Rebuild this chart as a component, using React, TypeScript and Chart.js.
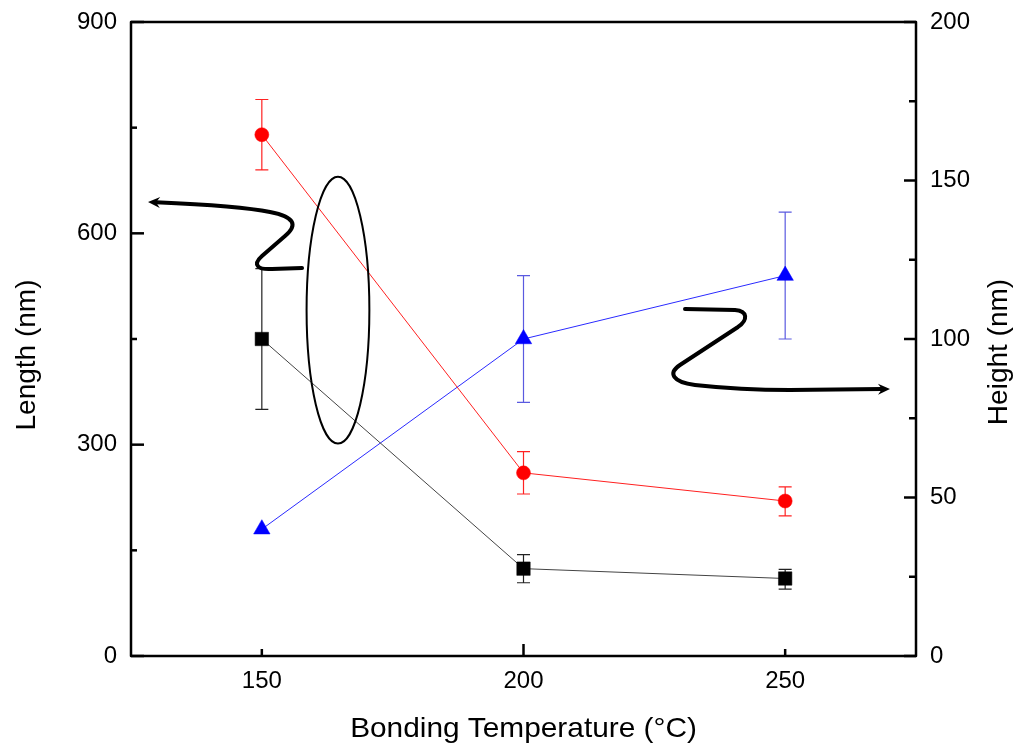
import React, { useEffect, useRef } from 'react';
import { Chart, registerables } from 'chart.js';

Chart.register(...registerables);

// ---- data ----
const temperatures = [150, 200, 250];
const lengthRed = [740, 260, 220];
const lengthRedErr: ([number, number] | null)[] = [[690, 790], [230, 290], [199, 240]];
const lengthBlack = [450, 124, 110];
const lengthBlackErr: ([number, number] | null)[] = [[350, 550], [104, 144], [95, 123]];
const heightBlue = [40, 100, 120];
const heightBlueErr: ([number, number] | null)[] = [null, [80, 120], [100, 140]];

const xTicks = [150, 200, 250];
const leftTicks = [0, 300, 600, 900];
const leftMinor = [150, 450, 750];
const rightTicks = [0, 50, 100, 150, 200];
const rightMinor = [25, 75, 125, 175];

// annotation geometry, in data units (x: temperature, y: left axis length)
const ellipseCenter = [164.55, 491];
const ellipseRadii = [6.0, 189.5];
const leftArrow: number[][] = [
  [128.25, 644.5],
  [145.83, 638.8], [151.56, 630.3],
  [156.34, 623.2], [156.91, 611.9], [154.43, 596.2],
  [150.03, 567.8],
  [148.12, 555.1], [149.27, 548.0], [151.94, 549.4],
  [157.68, 550.8],
];
const rightArrow: number[][] = [
  [230.86, 492.6],
  [240.41, 491.2],
  [242.9, 489.8], [242.9, 477.0], [240.99, 467.1],
  [229.9, 413.1],
  [227.61, 401.7], [228.38, 389.0], [232.77, 384.7],
  [241.37, 377.6], [250.92, 377.6],
  [270.03, 379.0],
];

const FONT = '"Liberation Sans", Arial, Helvetica, sans-serif';

const toXY = (vals: number[]) => temperatures.map((t, i) => ({ x: t, y: vals[i] }));

const errorBarPlugin = {
  id: 'errorBars',
  beforeDatasetsDraw(chart: any) {
    const ctx = chart.ctx;
    const xs = chart.scales.x;
    chart.data.datasets.forEach((ds: any) => {
      const ys = chart.scales[ds.yAxisID];
      const errs = ds.errors || [];
      ctx.save();
      ctx.strokeStyle = ds.errorColor;
      ctx.lineWidth = 1.2;
      errs.forEach((e: [number, number] | null, j: number) => {
        if (!e) return;
        const x = xs.getPixelForValue(ds.data[j].x);
        const y1 = ys.getPixelForValue(e[0]);
        const y2 = ys.getPixelForValue(e[1]);
        ctx.beginPath();
        ctx.moveTo(x, y1); ctx.lineTo(x, y2);
        ctx.moveTo(x - 6.5, y1); ctx.lineTo(x + 6.5, y1);
        ctx.moveTo(x - 6.5, y2); ctx.lineTo(x + 6.5, y2);
        ctx.stroke();
      });
      ctx.restore();
    });
  },
};

function arrowHead(ctx: CanvasRenderingContext2D, tip: number[], from: number[]) {
  const dx = tip[0] - from[0];
  const dy = tip[1] - from[1];
  const len = Math.hypot(dx, dy) || 1;
  const ux = dx / len, uy = dy / len;
  const px = -uy, py = ux;
  const L = 12, W = 5.5;
  ctx.beginPath();
  ctx.moveTo(tip[0], tip[1]);
  ctx.lineTo(tip[0] - ux * L + px * W, tip[1] - uy * L + py * W);
  ctx.lineTo(tip[0] - ux * (L - 4), tip[1] - uy * (L - 4));
  ctx.lineTo(tip[0] - ux * L - px * W, tip[1] - uy * L - py * W);
  ctx.closePath();
  ctx.fill();
}

const framePlugin = {
  id: 'frame',
  afterDraw(chart: any) {
    const { ctx, chartArea: a, scales } = chart;
    const xs = scales.x, yl = scales.y, yr = scales.y2;
    const P = (v: number[]) => [xs.getPixelForValue(v[0]), yl.getPixelForValue(v[1])];
    ctx.save();
    ctx.strokeStyle = '#000';
    ctx.fillStyle = '#000';

    // annotations
    const c = P(ellipseCenter);
    const rx = Math.abs(xs.getPixelForValue(ellipseCenter[0] + ellipseRadii[0]) - c[0]);
    const ry = Math.abs(yl.getPixelForValue(ellipseCenter[1] + ellipseRadii[1]) - c[1]);
    ctx.lineWidth = 2;
    ctx.beginPath();
    ctx.ellipse(c[0], c[1], rx, ry, 0, 0, Math.PI * 2);
    ctx.stroke();

    ctx.lineWidth = 4;
    ctx.lineCap = 'round';
    ctx.lineJoin = 'round';
    {
      const p = leftArrow.map(P);
      ctx.beginPath();
      ctx.moveTo(p[0][0] + 8, p[0][1] + 0.3);
      ctx.quadraticCurveTo(p[1][0], p[1][1], p[2][0], p[2][1]);
      ctx.bezierCurveTo(p[3][0], p[3][1], p[4][0], p[4][1], p[5][0], p[5][1]);
      ctx.lineTo(p[6][0], p[6][1]);
      ctx.bezierCurveTo(p[7][0], p[7][1], p[8][0], p[8][1], p[9][0], p[9][1]);
      ctx.lineTo(p[10][0], p[10][1]);
      ctx.stroke();
      arrowHead(ctx, p[0], p[1]);
    }
    {
      const p = rightArrow.map(P);
      ctx.beginPath();
      ctx.moveTo(p[0][0], p[0][1]);
      ctx.lineTo(p[1][0], p[1][1]);
      ctx.bezierCurveTo(p[2][0], p[2][1], p[3][0], p[3][1], p[4][0], p[4][1]);
      ctx.lineTo(p[5][0], p[5][1]);
      ctx.bezierCurveTo(p[6][0], p[6][1], p[7][0], p[7][1], p[8][0], p[8][1]);
      ctx.quadraticCurveTo(p[9][0], p[9][1], p[10][0], p[10][1]);
      ctx.lineTo(p[11][0] - 8, p[11][1]);
      ctx.stroke();
      arrowHead(ctx, p[11], p[10]);
    }

    // frame
    ctx.lineCap = 'butt';
    ctx.lineWidth = 2.5;
    ctx.strokeRect(a.left, a.top, a.right - a.left, a.bottom - a.top);
    const seg = (x1: number, y1: number, x2: number, y2: number) => {
      ctx.beginPath(); ctx.moveTo(x1, y1); ctx.lineTo(x2, y2); ctx.stroke();
    };
    leftTicks.forEach((v) => { const y = yl.getPixelForValue(v); seg(a.left, y, a.left + 13, y); });
    leftMinor.forEach((v) => { const y = yl.getPixelForValue(v); seg(a.left, y, a.left + 6, y); });
    rightTicks.forEach((v) => { const y = yr.getPixelForValue(v); seg(a.right, y, a.right - 12, y); });
    rightMinor.forEach((v) => { const y = yr.getPixelForValue(v); seg(a.right, y, a.right - 7, y); });
    xTicks.forEach((v, i) => { const x = xs.getPixelForValue(v); seg(x, a.bottom, x, a.bottom - (i === 1 ? 12 : 7)); });

    // axis titles
    ctx.font = `28px ${FONT}`;
    ctx.textAlign = 'center';
    ctx.textBaseline = 'alphabetic';
    ctx.save();
    ctx.translate((a.left + a.right) / 2, 737);
    ctx.scale(1.065, 1);
    ctx.fillText('Bonding Temperature (\u00B0C)', 0, 0);
    ctx.restore();
    ctx.save();
    ctx.translate(35, 355);
    ctx.rotate(-Math.PI / 2);
    ctx.fillText('Length (nm)', 0, 0);
    ctx.restore();
    ctx.save();
    ctx.translate(1007, 352);
    ctx.rotate(-Math.PI / 2);
    ctx.fillText('Height (nm)', 0, 0);
    ctx.restore();
    ctx.restore();
  },
};

const zeroPad = (s: any) => {
  s.paddingTop = 0;
  s.paddingBottom = 0;
  s.paddingLeft = 0;
  s.paddingRight = 0;
};

export default function App() {
  const ref = useRef<HTMLCanvasElement | null>(null);
  useEffect(() => {
    if (!ref.current) return;
    const tickFont = { family: FONT, size: 24 };
    const chart = new Chart(ref.current, {
      type: 'line',
      data: {
        datasets: [
          {
            label: 'Length (red)',
            data: toXY(lengthRed),
            yAxisID: 'y',
            borderColor: '#ff2020',
            backgroundColor: '#ff0000',
            borderWidth: 1,
            pointStyle: 'circle',
            pointRadius: 7,
            pointBorderWidth: 0.5,
            pointBorderColor: '#ff0000',
            errors: lengthRedErr,
            errorColor: '#f22',
          } as any,
          {
            label: 'Length (black)',
            data: toXY(lengthBlack),
            yAxisID: 'y',
            borderColor: '#444',
            backgroundColor: '#000',
            borderWidth: 1,
            pointStyle: 'rect',
            pointRadius: 9.5,
            pointBorderWidth: 0.5,
            pointBorderColor: '#000',
            errors: lengthBlackErr,
            errorColor: '#222',
          } as any,
          {
            label: 'Height (blue)',
            data: toXY(heightBlue),
            yAxisID: 'y2',
            borderColor: '#2a2aff',
            backgroundColor: '#0000ff',
            borderWidth: 1,
            pointStyle: 'triangle',
            pointRadius: 9.5,
            pointBorderWidth: 0.5,
            pointBorderColor: '#0000ff',
            errors: heightBlueErr,
            errorColor: '#5a5ae0',
          } as any,
        ],
      },
      options: {
        animation: false,
        responsive: false,
        devicePixelRatio: 1,
        layout: { padding: { top: 22, left: 0, right: 0, bottom: 0 } },
        plugins: { legend: { display: false }, tooltip: { enabled: false } },
        scales: {
          x: {
            type: 'linear',
            min: 125,
            max: 275,
            grid: { display: false, drawTicks: false },
            border: { display: false },
            ticks: { font: tickFont, color: '#000', padding: 11 },
            afterBuildTicks: (s: any) => { s.ticks = xTicks.map((v) => ({ value: v })); },
            afterFit: (s: any) => { s.height = 95; zeroPad(s); },
          },
          y: {
            type: 'linear',
            position: 'left',
            min: 0,
            max: 900,
            grid: { display: false, drawTicks: false },
            border: { display: false },
            ticks: { font: tickFont, color: '#000', padding: 14 },
            afterBuildTicks: (s: any) => { s.ticks = leftTicks.map((v) => ({ value: v })); },
            afterFit: (s: any) => { s.width = 131; zeroPad(s); },
          },
          y2: {
            type: 'linear',
            position: 'right',
            min: 0,
            max: 200,
            grid: { display: false, drawTicks: false },
            border: { display: false },
            ticks: { font: tickFont, color: '#000', padding: 14 },
            afterBuildTicks: (s: any) => { s.ticks = rightTicks.map((v) => ({ value: v })); },
            afterFit: (s: any) => { s.width = 103; zeroPad(s); },
          },
        },
      },
      plugins: [errorBarPlugin, framePlugin],
    });
    return () => chart.destroy();
  }, []);
  return (
    <div style={{ position: 'fixed', left: 0, top: 0, width: 1019, height: 751, background: '#fff' }}>
      <canvas ref={ref} width={1019} height={751} style={{ display: 'block' }} />
    </div>
  );
}
